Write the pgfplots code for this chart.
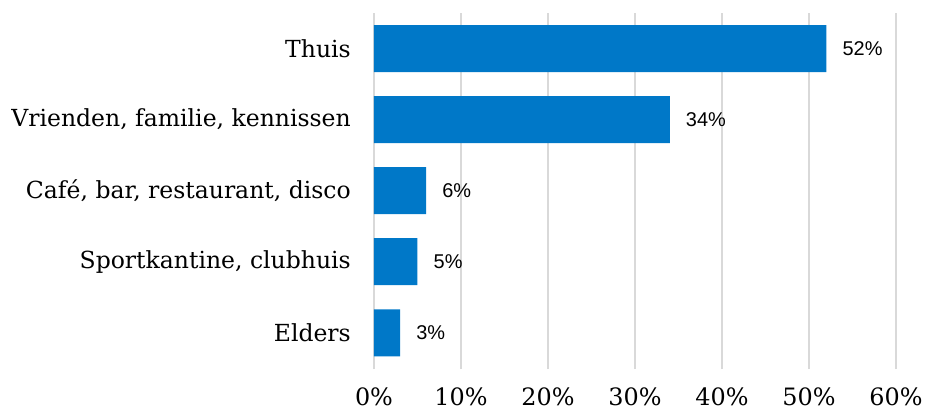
\documentclass[border=0pt]{standalone}
\usepackage{pgfplots}
\pgfplotsset{compat=1.18}
\usepackage{fontspec}
\setmainfont{DejaVu Serif}
\newfontfamily\valfont{Liberation Sans}
\definecolor{barblue}{HTML}{0078C8}
\definecolor{gridgray}{HTML}{D9D9D9}
\begin{document}
\begin{tikzpicture}
\begin{axis}[
  scale only axis,
  width=522bp, height=356bp,
  xbar, bar width=47bp,
  xmin=0, xmax=60,
  ymin=-0.51, ymax=4.5,
  xtick={0,10,...,60},
  xticklabel={\pgfmathprintnumber{\tick}\%},
  /pgf/number format/assume math mode=true,
  ytick={0,1,2,3,4},
  yticklabels={Elders,{Sportkantine, clubhuis},{Café, bar, restaurant, disco},{Vrienden, familie, kennissen},Thuis},
  major tick length=0pt,
  axis line style={draw=none},
  xmajorgrids,
  grid style={gridgray, line width=1.5bp},
  xticklabel style={font=\fontsize{24}{28}\selectfont},
  yticklabel style={font=\fontsize{23.6}{28}\selectfont},
  yticklabel style={inner sep=0pt, xshift=-23bp},
  xticklabel style={inner sep=0pt, yshift=-19bp},
  nodes near coords={\pgfmathprintnumber{\pgfplotspointmeta}\%},
  every node near coord/.append style={font=\valfont\fontsize{20}{24}\selectfont, anchor=west, inner sep=0pt, xshift=16bp, color=black},
  point meta=x,
]
\addplot[fill=barblue, draw=none] coordinates {(3,0) (5,1) (6,2) (34,3) (52,4)};
\end{axis}
\pgfresetboundingbox
\path[use as bounding box] ([xshift=-374bp,yshift=-45bp]current axis.south west) rectangle ([xshift=30bp,yshift=13bp]current axis.north east);
\end{tikzpicture}
\end{document}
